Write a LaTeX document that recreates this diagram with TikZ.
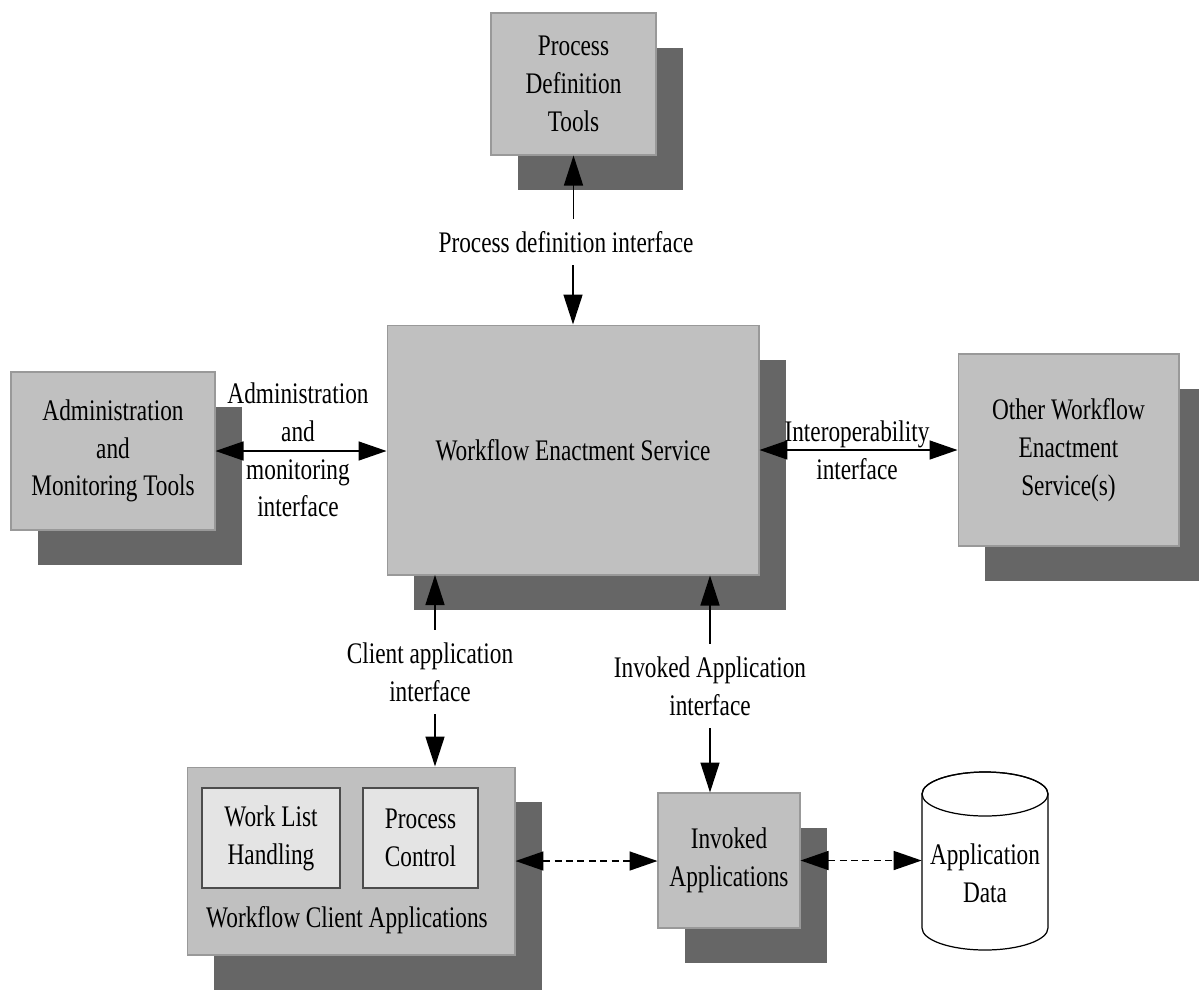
\documentclass[tikz,border=0pt]{standalone}
\usepackage{fontspec}
\setmainfont{Liberation Serif}[FakeStretch=0.78]
\usetikzlibrary{arrows.meta,shadows}

\definecolor{boxgray}{HTML}{C0C0C0}
\definecolor{shadowgray}{HTML}{666666}
\definecolor{edgegray}{HTML}{999999}
\definecolor{innergray}{HTML}{E4E4E4}

\tikzset{
  box/.style={draw=edgegray, fill=boxgray, line width=0.6pt, align=center,
    general shadow={fill=shadowgray, shadow xshift=0.54cm, shadow yshift=-0.7cm}},
  innerbox/.style={draw=black!70, fill=innergray, line width=0.8pt, align=center},
  lbl/.style={align=center, inner sep=7pt},
  iface/.style={line width=0.9pt, -{Triangle[length=0.6cm,width=0.38cm]}},
  ifaceboth/.style={line width=0.9pt,
    {Triangle[length=0.56cm,width=0.38cm]}-{Triangle[length=0.56cm,width=0.38cm]}},
  dashlink/.style={ifaceboth, dash pattern=on 4pt off 2.5pt},
}

\begin{document}
\begin{tikzpicture}[x=0.02cm, y=-0.02cm, font=\fontsize{17}{21.5}\selectfont]
    \useasboundingbox (0,0) rectangle (1199,990);

    %process definition tools
    \node (pdt) at (573.5,84) [box, minimum width=3.3cm, minimum height=2.84cm]
        {Process\\Definition\\Tools};

    %enactment service
    \node (wes) at (573,450) [box, minimum width=7.44cm, minimum height=5cm]
        {Workflow Enactment Service};

    %admin tools
    \node (amt) at (113,451) [box, minimum width=4.08cm, minimum height=3.16cm]
        {Administration\\and\\Monitoring Tools};

    %other services
    \node (owes) at (1068.5,450) [box, minimum width=4.42cm, minimum height=3.84cm]
        {Other Workflow\\Enactment\\Service(s)};

    %client applications
    \node (wca) at (351,861) [box, minimum width=6.56cm, minimum height=3.76cm] {};
    \node (wlh) at (271,838) [innerbox, minimum width=2.76cm, minimum height=2cm]
        {Work List\\Handling};
    \node (pc) at (420.5,838) [innerbox, minimum width=2.3cm, minimum height=2cm]
        {Process\\Control};
    \node (wcalbl) at (347,920) [lbl, inner sep=0pt] {Workflow Client Applications};

    %invoked applications
    \node (ia) at (729,860.5) [box, minimum width=2.84cm, minimum height=2.7cm]
        {Invoked\\Applications};

    %data store
    \draw[line width=0.7pt, fill=white] (922,794) -- (922,928)
        arc[start angle=180, end angle=360, x radius=1.26cm, y radius=0.44cm]
        -- (1048,794)
        arc[start angle=0, end angle=180, x radius=1.26cm, y radius=0.44cm] -- cycle;
    \draw[line width=0.7pt] (985,794) ellipse [x radius=1.26cm, y radius=0.44cm];
    \node (appdata) at (985,873) [lbl, inner sep=0pt, minimum width=2.52cm]
        {Application\\Data};

    %interface labels
    \node (pdtlbl) at (566,242) [lbl] {Process definition interface};
    \node (amtlbl) at (298,450) [lbl] {Administration\\and\\monitoring\\interface};
    \node (owesiflbl) at (857,450) [lbl] {Interoperability\\interface};
    \node (calbl) at (430,672) [lbl] {Client application\\interface};
    \node (ialbl) at (710,686) [lbl] {Invoked Application\\interface};
    \coordinate (clx) at (435,575);

    %process definition interface
    \draw[iface] (pdtlbl.north -| pdt.south) -- (pdt.south);
    \draw[iface] (pdtlbl.south -| wes.north) -- (wes.north);

    %side interfaces
    \draw[ifaceboth] (amt.east) -- (amt.east -| wes.west);
    \draw[ifaceboth] (wes.east) -- (wes.east -| owes.west);

    %client and invoked interfaces
    \draw[iface] (calbl.north -| clx) -- (clx);
    \draw[iface] (calbl.south -| clx) -- (clx |- wca.north);
    \draw[iface] (ialbl.north) -- (ialbl.north |- wes.south);
    \draw[iface] (ialbl.south) -- (ialbl.south |- ia.north);

    %dashed links
    \draw[dashlink] (wca.east) -- (wca.east -| ia.west);
    \draw[dashlink] (ia.east) -- (ia.east -| appdata.west);
\end{tikzpicture}
\end{document}
